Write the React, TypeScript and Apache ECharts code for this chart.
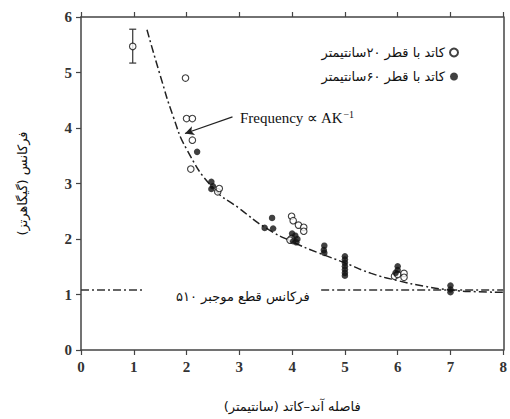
import React, { useEffect, useRef } from "react";
import * as echarts from "echarts";

const xTicks = [0, 1, 2, 3, 4, 5, 6, 7, 8];
const yTicks = [0, 1, 2, 3, 4, 5, 6];

const seriesOpenName = "کاتد با قطر ۲۰سانتیمتر";
const seriesFilledName = "کاتد با قطر ۶۰سانتیمتر";

const openPoints: number[][] = [
  [0.98, 5.47],
  [1.98, 4.9],
  [2.0, 4.17], [2.11, 4.17],
  [2.11, 3.78],
  [2.08, 3.26],
  [2.59, 2.85], [2.62, 2.91],
  [3.99, 2.41], [4.02, 2.33], [4.12, 2.25], [4.22, 2.21], [4.22, 2.14], [3.99, 2.01], [3.96, 1.98],
  [5.94, 1.33], [6.0, 1.36], [6.12, 1.38], [6.12, 1.31],
];

const filledPoints: number[][] = [
  [2.2, 3.57],
  [2.47, 3.03], [2.5, 2.95], [2.47, 2.9],
  [3.62, 2.38], [3.48, 2.2], [3.64, 2.19],
  [4.0, 2.1], [4.06, 2.06], [4.1, 2.0], [4.02, 1.96], [4.08, 1.94],
  [4.61, 1.88], [4.6, 1.8], [4.61, 1.75],
  [5.0, 1.69], [5.0, 1.63], [5.0, 1.57], [5.0, 1.51], [5.0, 1.45], [5.0, 1.39], [5.0, 1.34],
  [6.0, 1.51], [6.0, 1.44], [5.96, 1.39],
  [7.0, 1.16], [7.0, 1.09], [7.0, 1.04],
];

// error bar on first open point: [x, low, high]
const errorBars: number[][] = [[0.98, 5.17, 5.78]];

// fitted curve (Frequency ∝ AK^-1)
const curveX = [1.25, 1.5, 1.75, 2, 2.5, 3, 3.5, 4, 4.5, 5, 5.5, 6, 6.5, 7, 7.5, 8];
const curveY = [5.77, 4.95, 4.2, 3.62, 2.92, 2.55, 2.2, 1.95, 1.75, 1.57, 1.38, 1.25, 1.15, 1.08, 1.05, 1.04];

// cutoff frequency line (y value) and its visible segments [xStart, xEnd]
const cutoffValue = 1.08;
const cutoffSegments: number[][] = [[0, 1.17], [4.55, 8]];

// arrow annotation [from, to]
const arrowFrom = [2.87, 4.2];
const arrowTo = [1.97, 3.9];

const serif = "'Liberation Serif', 'Times New Roman', serif";
const persian = "'DejaVu Sans', 'Noto Sans', serif";
const RLM = "\u200F";

export default function App() {
  const ref = useRef<HTMLDivElement>(null);
  useEffect(() => {
    if (!ref.current) return;
    const chart = echarts.init(ref.current, undefined, { renderer: "svg" });
    const dash = [8, 3, 2, 3];
    const axisColor = "#444";
    const option: any = {
      animation: false,
      backgroundColor: "#fff",
      grid: { left: 81, top: 17, right: 0, bottom: 69 },
      legend: {
        orient: "vertical",
        right: 46,
        top: 41,
        align: "right",
        itemWidth: 8,
        itemHeight: 8,
        itemGap: 11,
        textStyle: { fontFamily: persian, fontSize: 13, color: "#111" },
        data: [seriesOpenName, seriesFilledName],
      },
      xAxis: [
        {
          type: "value",
          min: xTicks[0],
          max: xTicks[xTicks.length - 1],
          interval: 1,
          position: "bottom",
          axisLine: { show: true, onZero: false, lineStyle: { color: axisColor, width: 1.5 } },
          axisTick: { show: true, length: 5, lineStyle: { color: axisColor, width: 1.2 } },
          splitLine: { show: false },
          axisLabel: { fontFamily: serif, fontSize: 15, color: "#333", margin: 9, fontWeight: "bold" },
          name: "فاصله آند–کاتد (سانتیمتر)" + RLM,
          nameLocation: "middle",
          nameGap: 50,
          nameTextStyle: { fontFamily: persian, fontSize: 13, color: "#111" },
        },
        {
          type: "value",
          min: xTicks[0],
          max: xTicks[xTicks.length - 1],
          interval: 1,
          position: "top",
          axisLine: { show: true, onZero: false, lineStyle: { color: axisColor, width: 1.5 } },
          axisTick: { show: true, length: 5, lineStyle: { color: axisColor, width: 1.2 } },
          axisLabel: { show: false },
          splitLine: { show: false },
        },
      ],
      yAxis: [
        {
          type: "value",
          min: yTicks[0],
          max: yTicks[yTicks.length - 1],
          interval: 1,
          axisLine: { show: true, onZero: false, lineStyle: { color: axisColor, width: 1.5 } },
          axisTick: { show: true, length: 5, lineStyle: { color: axisColor, width: 1.2 } },
          splitLine: { show: false },
          axisLabel: { fontFamily: serif, fontSize: 15, color: "#333", margin: 9, fontWeight: "bold" },
          name: "فرکانس (گیگاهرتز)" + RLM,
          nameLocation: "middle",
          nameGap: 52,
          nameTextStyle: { fontFamily: persian, fontSize: 13, color: "#111" },
        },
        {
          type: "value",
          min: yTicks[0],
          max: yTicks[yTicks.length - 1],
          interval: 1,
          position: "right",
          axisLine: { show: true, onZero: false, lineStyle: { color: axisColor, width: 1.5 } },
          axisTick: { show: false },
          axisLabel: { show: false },
          splitLine: { show: false },
        },
      ],
      series: [
        ...cutoffSegments.map((seg) => ({
          type: "line",
          data: [[seg[0], cutoffValue], [seg[1], cutoffValue]],
          symbol: "none",
          silent: true,
          lineStyle: { color: "#333", width: 1.5, type: dash },
        })),
        {
          type: "line",
          data: curveX.map((x, i) => [x, curveY[i]]),
          smooth: true,
          symbol: "none",
          silent: true,
          lineStyle: { color: "#222", width: 1.5, type: dash },
          markLine: {
            silent: true,
            symbol: ["none", "arrow"],
            symbolSize: [7, 9],
            label: { show: false },
            lineStyle: { color: "#222", width: 1.2, type: "solid" },
            data: [[{ coord: arrowFrom }, { coord: arrowTo }]],
          },
        },
        {
          type: "custom",
          silent: true,
          data: errorBars,
          renderItem: (params: any, api: any) => {
            const x = api.value(0);
            const lo = api.coord([x, api.value(1)]);
            const hi = api.coord([x, api.value(2)]);
            const cap = 3.5;
            const style = { stroke: "#333", lineWidth: 1.2 };
            return {
              type: "group",
              children: [
                { type: "line", shape: { x1: lo[0], y1: lo[1], x2: hi[0], y2: hi[1] }, style },
                { type: "line", shape: { x1: lo[0] - cap, y1: lo[1], x2: lo[0] + cap, y2: lo[1] }, style },
                { type: "line", shape: { x1: hi[0] - cap, y1: hi[1], x2: hi[0] + cap, y2: hi[1] }, style },
              ],
            };
          },
          z: 1,
        },
        {
          name: seriesOpenName,
          type: "scatter",
          data: openPoints,
          symbol: "circle",
          symbolSize: 6.5,
          itemStyle: { color: "#fff", borderColor: "#111", borderWidth: 1.1 },
          z: 3,
        },
        {
          name: seriesFilledName,
          type: "scatter",
          data: filledPoints,
          symbol: "circle",
          symbolSize: 6.5,
          itemStyle: { color: "#111" },
          z: 4,
        },
      ],
      graphic: [
        {
          type: "text",
          left: 240,
          top: 109,
          style: {
            text: "Frequency ∝ AK{sup|−1}",
            fontFamily: serif,
            fontSize: 15,
            fill: "#111",
            rich: {
              sup: { fontSize: 10, fontFamily: serif, fill: "#111", verticalAlign: "top", padding: [0, 0, 8, 0] },
            },
          },
        },
        {
          type: "text",
          left: 176,
          top: 290,
          style: {
            text: "فرکانس قطع موجبر ۵۱۰",
            fontFamily: persian,
            fontSize: 13,
            fill: "#111",
          },
        },
      ],
    };
    chart.setOption(option);
    return () => chart.dispose();
  }, []);
  return (
    <div
      ref={ref}
      style={{ position: "absolute", left: 0, top: 0, width: 510, height: 419, background: "#fff" }}
    />
  );
}
